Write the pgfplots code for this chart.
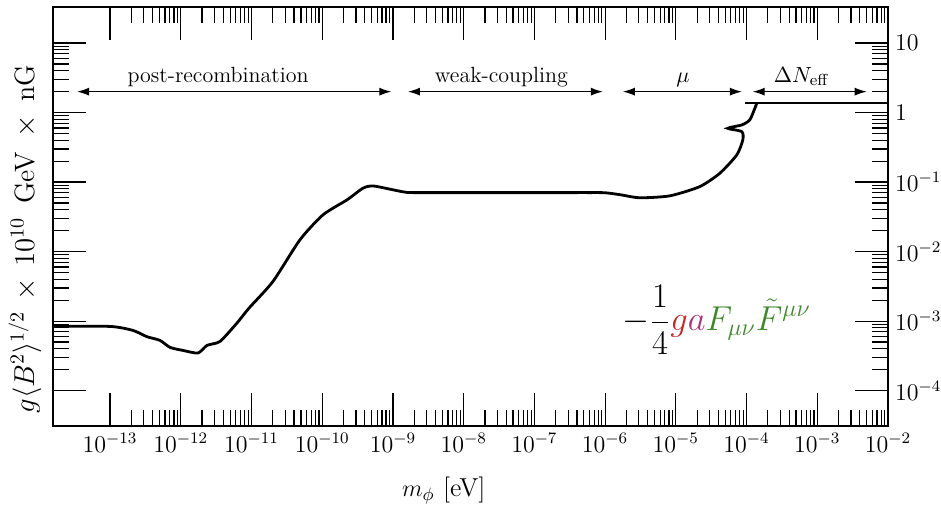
\documentclass[border=0pt]{standalone}
\usepackage{pgfplots}
\pgfplotsset{compat=1.18}
\usetikzlibrary{arrows.meta}
\definecolor{cg}{RGB}{192,42,42}
\definecolor{ca}{RGB}{165,55,125}
\definecolor{cf}{RGB}{62,135,42}
\begin{document}
\begin{tikzpicture}
\useasboundingbox (-26.5pt,-42pt) rectangle (444pt,213pt);
\begin{axis}[
  at={(0,0)}, anchor=south west,
  scale only axis, width=417.5pt, height=209.5pt,
  xmode=log, ymode=log,
  xmin=1.56e-14, xmax=1e-2, ymin=3.1e-5, ymax=33,
  xtick={1e-13,1e-12,1e-11,1e-10,1e-9,1e-8,1e-7,1e-6,1e-5,1e-4,1e-3,1e-2},
  ytick={1e-4,1e-3,1e-2,1e-1,1,10},
  yticklabels={$10^{-4}$,$10^{-3}$,$10^{-2}$,$10^{-1}$,$1$,$10$},
  tick pos=both, tick align=inside,
  yticklabel pos=right,
  major tick length=16.5pt, minor tick length=8pt,
  every tick/.style={black, line width=0.6pt},
  axis line style={line width=1pt},
  xticklabel style={font=\fontsize{11.5}{13}\selectfont},
  yticklabel style={font=\fontsize{11.5}{13}\selectfont},
  xlabel={$m_\phi$ [eV]},
  xlabel style={font=\fontsize{13}{15}\selectfont, at={(axis description cs:0.468,-0.153)}, anchor=center},
  ylabel={$g\langle B^2\rangle^{1/2}\,\times\, 10^{10}$\ \,GeV\ \,$\times$\ \,nG},
  ylabel style={font=\fontsize{14}{16}\selectfont, at={(axis description cs:-0.0335,0.446)}, anchor=center},
]
\addplot[black, line width=1.4pt, smooth, tension=0.4] coordinates {
(1.56e-14,8.39e-4) (1e-13,8.39e-4) (2.11e-13,7.35e-4) (3.33e-13,5.97e-4)
(5.09e-13,5.28e-4) (7.05e-13,4.19e-4) (1.076e-12,3.79e-4) (1.754e-12,3.48e-4)
(2.35e-12,4.48e-4) (3.59e-12,5.11e-4) (6.24e-12,9.4e-4) (9.23e-12,1.54e-3)
(2.01e-11,3.72e-3) (4.85e-11,1.48e-2) (1.026e-10,3.38e-2) (2.24e-10,5.55e-2)
(3.77e-10,8.17e-2) (5.21e-10,8.81e-2) (9.08e-10,7.91e-2) (1.58e-9,7.11e-2)
(3.33e-9,7.06e-2) (1e-8,7.06e-2) (3e-8,7.06e-2) (1e-7,7.06e-2) (3e-7,7.06e-2)
(6e-7,7.06e-2) (9.9e-7,7.03e-2) (1.61e-6,6.6e-2) (3.10e-6,5.95e-2)
(8.22e-6,6.34e-2) (2.18e-5,8.61e-2) (4.19e-5,0.134) (7.28e-5,0.246)
(8.85e-5,0.404) (8.57e-5,0.532) (5.43e-5,0.594) (8.57e-5,0.664)
(1.11e-4,0.783) (1.31e-4,1.153) (1.40e-4,1.374)
};
\addplot[black, line width=1.4pt] coordinates {(9.44e-5,1.374) (1e-2,1.374)};
\draw[{Latex[length=6pt,width=4pt]}-{Latex[length=6pt,width=4pt]}, line width=0.6pt] (axis cs:3.42e-14,2) -- (axis cs:9.5e-10,2);
\draw[{Latex[length=6pt,width=4pt]}-{Latex[length=6pt,width=4pt]}, line width=0.6pt] (axis cs:1.63e-9,2) -- (axis cs:9.3e-7,2);
\draw[{Latex[length=6pt,width=4pt]}-{Latex[length=6pt,width=4pt]}, line width=0.6pt] (axis cs:1.78e-6,2) -- (axis cs:8.6e-5,2);
\draw[{Latex[length=6pt,width=4pt]}-{Latex[length=6pt,width=4pt]}, line width=0.6pt] (axis cs:1.22e-4,2) -- (axis cs:5.0e-3,2);
\node[anchor=base, font=\fontsize{11}{13}\selectfont] at (axis cs:3.37e-12,2.75) {post-recombination};
\node[anchor=base, font=\fontsize{11}{13}\selectfont] at (axis cs:3.42e-8,2.75) {weak-coupling};
\node[anchor=base, font=\fontsize{11}{13}\selectfont] at (axis cs:1.26e-5,2.75) {$\mu$};
\node[anchor=base, font=\fontsize{11}{13}\selectfont] at (axis cs:6.04e-4,2.75) {$\Delta N_{\mathrm{eff}}$};
\node[font=\fontsize{16.5}{19}\selectfont] at (axis cs:3.8e-5,1.05e-3) {$\displaystyle -\frac{1}{4}{\color{cg}g}{\color{ca}a}{\color{cf}F_{\mu\nu}\tilde{F}^{\mu\nu}}$};
\end{axis}
\end{tikzpicture}
\end{document}
